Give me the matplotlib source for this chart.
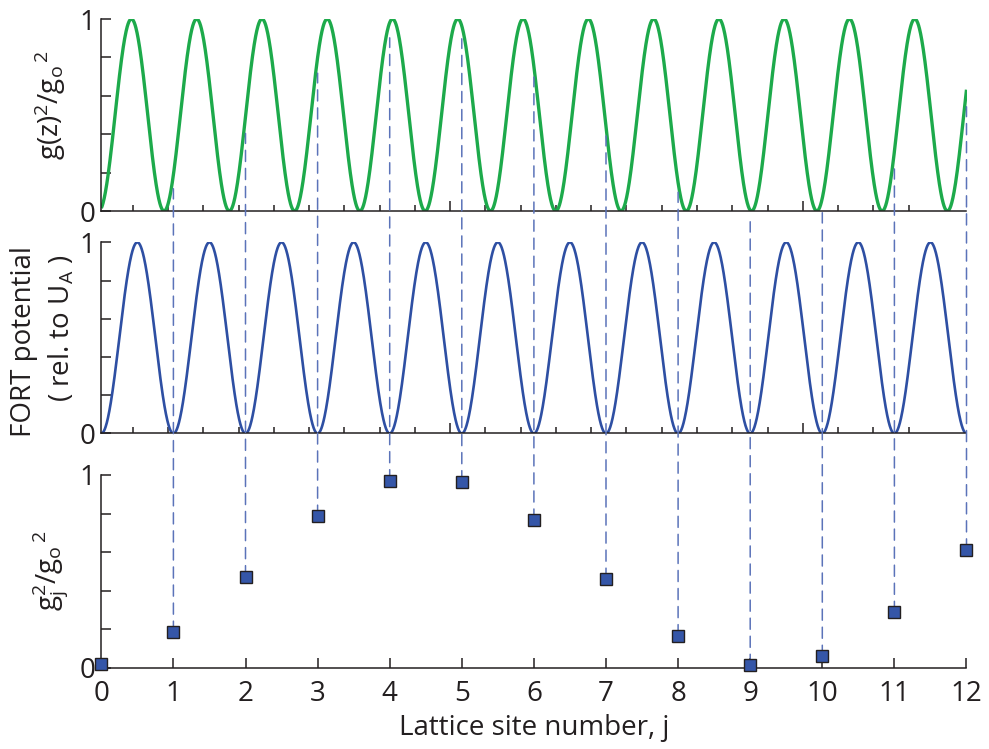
import numpy as np
import matplotlib
matplotlib.use("Agg")
import matplotlib.pyplot as plt
from matplotlib.patches import ConnectionPatch

# ---------------- data ----------------
sites = list(range(13))                       # lattice site number j
gj2 = [0.020, 0.184, 0.472, 0.786, 0.970, 0.965, 0.766,
       0.459, 0.166, 0.012, 0.059, 0.287, 0.611]  # g_j^2 / g_o^2
x_tick_labels = [str(s) for s in sites]
y_tick_values = [0, 0.2, 0.4, 0.6, 0.8, 1.0]
y_tick_labels = ["0", "", "", "", "", "1"]

# cavity-mode (green) curve parameters, in lattice-site units
cavity_period = 0.9054
cavity_shift = 0.035
# FORT lattice (blue) period
fort_period = 1.0
# top/middle panel tick marks (in lattice-site units)
top_tick_start = 0.4355
top_tick_step = 0.4892
top_tick_count = 23
top_major_index = [9, 19]
dash_shortfall = 0.068

# ---------------- style ----------------
plt.rcParams["font.family"] = ["Open Sans", "DejaVu Sans"]
plt.rcParams["mathtext.fontset"] = "custom"
plt.rcParams["mathtext.rm"] = "Open Sans"
plt.rcParams["mathtext.it"] = "Open Sans"
plt.rcParams["mathtext.bf"] = "Open Sans:bold"

INK = "#231F20"
GREEN = "#1DAA4B"
BLUE = "#2E4FA3"
DASH = "#5B73B9"
MARK = "#3556A8"
FS = 20

fig = plt.figure(figsize=(9.89, 7.49), dpi=100)
W, H = 989.0, 749.0
left_px, right_px = 101.3, 966.5


def make_ax(top_px, bot_px):
    return fig.add_axes([left_px / W, 1 - bot_px / H,
                         (right_px - left_px) / W, (bot_px - top_px) / H])


ax1 = make_ax(19, 211)
ax2 = make_ax(242.3, 433.5)
ax3 = make_ax(475, 667.7)

z = np.linspace(0, 12, 3000)
green = np.sin(np.pi * (z + cavity_shift) / cavity_period) ** 2
blue = np.sin(np.pi * z / fort_period) ** 2

ax1.plot(z, green, color=GREEN, lw=2.4, solid_capstyle="butt")
ax2.plot(z, blue, color=BLUE, lw=1.9, solid_capstyle="butt")
ax3.plot(sites, gj2, linestyle="none", marker="s", ms=8.2,
         mfc=MARK, mec=INK, mew=1.0, zorder=5, clip_on=False)

top_ticks = [top_tick_start + top_tick_step * k for k in range(top_tick_count)]
top_major = [top_ticks[k] for k in top_major_index]
top_minor = [t for k, t in enumerate(top_ticks) if k not in top_major_index]

for ax in (ax1, ax2, ax3):
    ax.set_xlim(0, 12)
    ax.set_ylim(0, 1)
    for s in ("top", "right"):
        ax.spines[s].set_visible(False)
    for s in ("left", "bottom"):
        ax.spines[s].set_color(INK)
        ax.spines[s].set_linewidth(1.1)
    ax.set_yticks(y_tick_values)
    ax.set_yticklabels(y_tick_labels)
    ax.tick_params(axis="both", which="major", direction="in", length=7.2,
                   width=1.1, color=INK, labelsize=FS, labelcolor=INK, pad=4)
    ax.tick_params(axis="both", which="minor", direction="in", length=4.3,
                   width=1.1, color=INK)
    ax.patch.set_visible(False)

for ax in (ax1, ax2):
    ax.set_xticks(top_major)
    ax.set_xticks(top_minor, minor=True)
    ax.set_xticklabels([])

ax3.set_xticks(sites)
ax3.set_xticklabels(x_tick_labels)
ax3.tick_params(axis="x", pad=9)
ax3.set_xlabel("Lattice site number, j", fontsize=FS, color=INK, labelpad=4)

# dashed guide lines from each site marker up to the cavity curve
for j, v in zip(sites[1:], gj2[1:]):
    con = ConnectionPatch(xyA=(j, v), coordsA=ax3.transData,
                          xyB=(j, v - dash_shortfall), coordsB=ax1.transData,
                          color=DASH, lw=1.1,
                          linestyle=(0, (8.0 / 1.1, 5.0 / 1.1)), zorder=2)
    con.set_in_layout(False)
    ax3.add_artist(con)

# y labels
fig.text(50 / W, 1 - 105 / H, r"g(z)$^2$/g$_o$$^{\,2}$", rotation=90,
         ha="center", va="center", fontsize=FS, color=INK)
fig.text(24 / W, 1 - 342 / H, "FORT potential", rotation=90,
         ha="center", va="center", fontsize=FS, color=INK)
fig.text(62 / W, 1 - 328 / H, r"( rel. to U$_A$ )", rotation=90,
         ha="center", va="center", fontsize=FS, color=INK)
fig.text(50 / W, 1 - 571 / H, r"g$_j^2$/g$_o$$^{\,2}$", rotation=90,
         ha="center", va="center", fontsize=FS, color=INK)

fig.savefig("out.png", dpi=100)
